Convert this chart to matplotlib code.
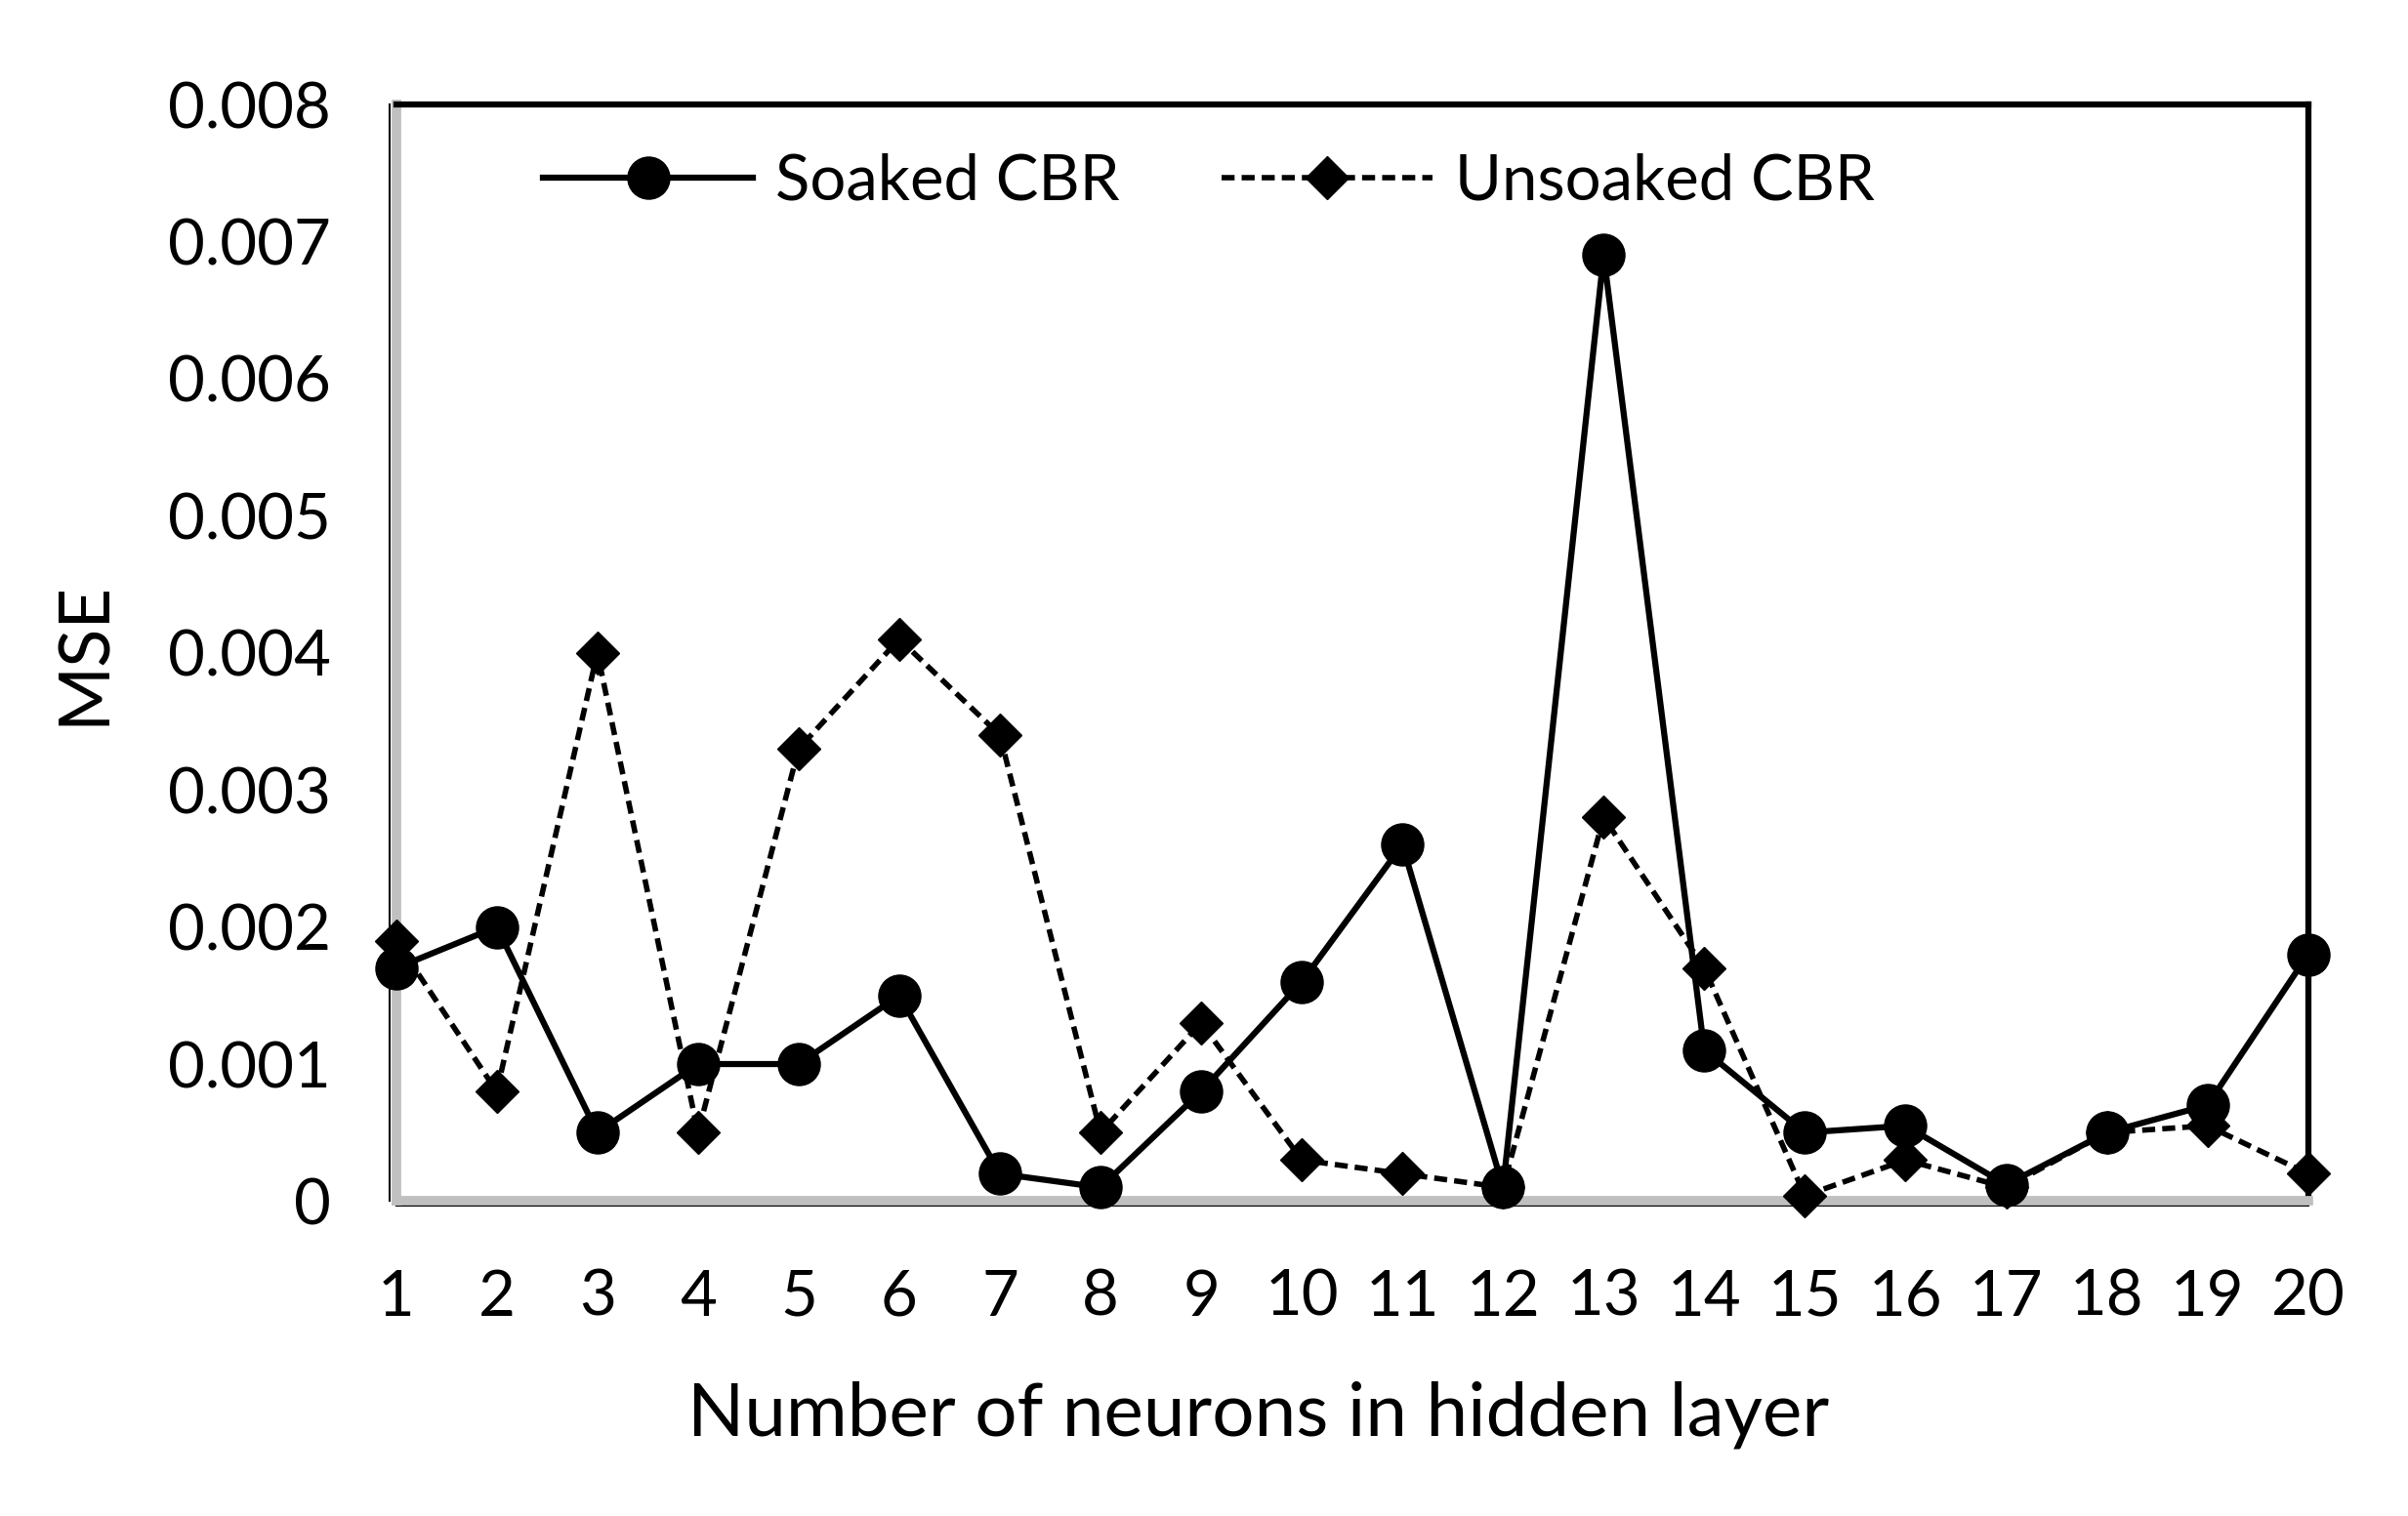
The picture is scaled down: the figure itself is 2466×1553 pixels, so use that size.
import numpy as np
import matplotlib.pyplot as plt

plt.rcParams['font.family'] = ['Lato', 'DejaVu Sans']

neurons = list(range(1, 21))
soaked = [0.0017, 0.0020, 0.0005, 0.0010, 0.0010, 0.0015, 0.0002, 0.0001, 0.0008, 0.0016,
          0.0026, 0.0001, 0.0069, 0.0011, 0.0005, 0.00055, 0.00012, 0.0005, 0.0007, 0.0018]
unsoaked = [0.0019, 0.0008, 0.0040, 0.0005, 0.0033, 0.0041, 0.0034, 0.0005, 0.0013, 0.0003,
            0.0002, 0.0001, 0.0028, 0.0017, 0.00004, 0.0003, 0.0001, 0.0005, 0.00055, 0.0002]
yticks = [0, 0.001, 0.002, 0.003, 0.004, 0.005, 0.006, 0.007, 0.008]
ytick_labels = ['0', '0.001', '0.002', '0.003', '0.004', '0.005', '0.006', '0.007', '0.008']

fig = plt.figure(figsize=(24.66, 15.53), dpi=100)
ax = fig.add_axes([0.1645, 0.2077, 0.794, 0.7234])

ax.plot(neurons, soaked, color='black', lw=4.5, marker='o', markersize=31,
        label='Soaked CBR', clip_on=False, zorder=3)
ax.plot(neurons, unsoaked, color='black', lw=4, ls=(0, (2.4, 1.3)), marker='D', markersize=22,
        label='Unsoaked CBR', clip_on=False, zorder=4)

ax.set_xlim(1, 20)
ax.set_ylim(0, 0.008)
ax.set_xticks(neurons)
ax.set_yticks(yticks)
ax.set_yticklabels(ytick_labels)
ax.tick_params(axis='both', length=0, labelsize=47)
ax.tick_params(axis='x', pad=50)
ax.tick_params(axis='y', pad=48)

# excel style frame: grey walls left/bottom, black top/right
for s in ['top', 'right']:
    ax.spines[s].set_color('black')
    ax.spines[s].set_linewidth(4.5)
for s in ['left', 'bottom']:
    ax.spines[s].set_color('#c0c0c0')
    ax.spines[s].set_linewidth(7)
ax.plot([0, 1], [-0.004, -0.004], transform=ax.transAxes, color='black', lw=1.5, clip_on=False, zorder=2)
ax.plot([-0.0035, -0.0035], [0, 1], transform=ax.transAxes, color='black', lw=1.5, clip_on=False, zorder=2)

ax.set_xlabel('Number of neurons in hidden layer', fontsize=55)
ax.xaxis.set_label_coords(0.451, -0.164)
ax.set_ylabel('MSE', fontsize=52, labelpad=38)

ax.legend(loc='upper center', bbox_to_anchor=(0.425, 1.008), ncol=2, frameon=False,
          fontsize=47, handlelength=3.3, columnspacing=1.6, handletextpad=0.35)

fig.savefig('out.png', dpi=100)
